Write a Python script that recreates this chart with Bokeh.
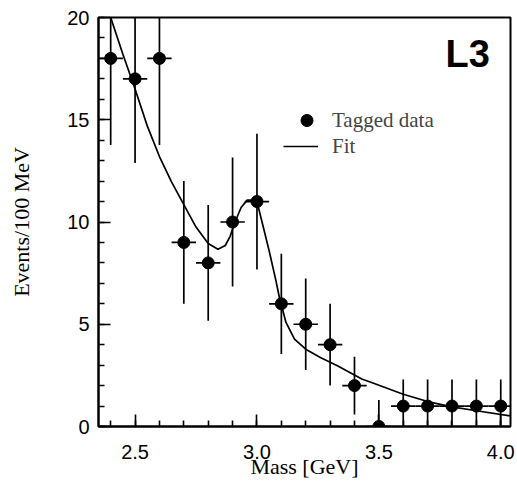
import numpy as np
from bokeh.plotting import figure
from bokeh.models import Range1d, FixedTicker, Legend, LegendItem, Label
from bokeh.embed import file_html
from bokeh.resources import INLINE

# ---- data ----
mass = [2.4, 2.5, 2.6, 2.7, 2.8, 2.9, 3.0, 3.1, 3.2, 3.3, 3.4, 3.5, 3.6, 3.7, 3.8, 3.9, 4.0]
events = [18, 17, 18, 9, 8, 10, 11, 6, 5, 4, 2, 0, 1, 1, 1, 1, 1]
err_up = [4.24, 4.12, 4.24, 3.0, 2.83, 3.16, 3.32, 2.45, 2.24, 2.0, 1.41, 1.3, 1.3, 1.3, 1.3, 1.3, 1.3]
err_dn = [4.24, 4.12, 4.24, 3.0, 2.83, 3.16, 3.32, 2.45, 2.24, 2.0, 1.41, 0.0, 1.0, 1.0, 1.0, 1.0, 1.0]
bin_width = 0.1

fit_mass = [2.40, 2.45, 2.50, 2.55, 2.60, 2.65, 2.70, 2.75, 2.80, 2.84, 2.87, 2.89, 2.91,
            2.935, 2.96, 2.99, 3.006, 3.03, 3.05, 3.078, 3.092, 3.119, 3.154, 3.20,
            3.26, 3.33, 3.43, 3.47, 3.60, 3.70, 3.80, 3.90, 4.04]
fit_events = [20.0, 18.2, 16.5, 14.7, 13.2, 11.95, 10.85, 9.75, 8.95, 8.67, 8.85, 9.3, 10.0,
              10.71, 11.07, 11.07, 10.71, 9.56, 8.59, 7.12, 6.31, 5.09, 4.27, 3.78,
              3.37, 2.97, 2.32, 2.15, 1.58, 1.22, 0.96, 0.77, 0.52]

x_ticks = [2.5, 3.0, 3.5, 4.0]
x_tick_labels = ["2.5", "3.0", "3.5", "4.0"]
y_ticks = [0, 5, 10, 15, 20]
y_tick_labels = ["0", "5", "10", "15", "20"]
x_minor = [round(v, 1) for v in np.arange(2.4, 4.05, 0.1)]
y_minor = list(range(0, 21))

p = figure(width=517, height=484, output_backend="svg", toolbar_location=None,
           x_range=Range1d(2.35, 4.04), y_range=Range1d(0, 20),
           min_border_left=98, min_border_right=7, min_border_top=17, min_border_bottom=58)
p.grid.visible = False
p.background_fill_color = "white"
p.border_fill_color = "white"
p.outline_line_color = "black"
p.outline_line_width = 2

lo = [e - d for e, d in zip(events, err_dn)]
hi = [e + u for e, u in zip(events, err_up)]
p.segment(x0=mass, y0=lo, x1=mass, y1=hi, line_color="black", line_width=1.7)
p.segment(x0=[m - bin_width / 2 for m in mass], y0=events,
          x1=[m + bin_width / 2 for m in mass], y1=events, line_color="black", line_width=1.7)
fit_r = p.line(fit_mass, fit_events, line_color="black", line_width=1.7)
pts = p.scatter(mass, events, size=12, fill_color="black", line_color="black")

for ax, ticks, labels, minor in ((p.xaxis[0], x_ticks, x_tick_labels, x_minor),
                                  (p.yaxis[0], y_ticks, y_tick_labels, y_minor)):
    ax.ticker = FixedTicker(ticks=ticks, minor_ticks=minor)
    ax.major_label_overrides = {t: l for t, l in zip(ticks, labels)}
    ax.major_tick_in = 12
    ax.major_tick_out = 0
    ax.minor_tick_in = 6
    ax.minor_tick_out = 0
    ax.major_tick_line_width = 1.6
    ax.minor_tick_line_width = 1.6
    ax.axis_line_width = 2
    ax.major_label_text_font = "Liberation Sans"
    ax.major_label_text_font_size = "20px"
    ax.major_label_text_color = "black"
    ax.axis_label_text_font = "Liberation Serif"
    ax.axis_label_text_font_size = "22px"
    ax.axis_label_text_font_style = "normal"
    ax.axis_label_text_color = "black"

p.xaxis.axis_label = "Mass [GeV]"
p.yaxis.axis_label = "Events/100 MeV"
p.xaxis.major_label_standoff = 18
p.xaxis.axis_label_standoff = -8
p.yaxis.major_label_standoff = 9
p.yaxis.axis_label_standoff = 30

common = dict(border_line_alpha=0, background_fill_alpha=0, padding=0, margin=0,
              glyph_width=35, glyph_height=30, label_text_font="Liberation Serif",
              label_text_font_size="21px", label_height=20)
p.add_layout(Legend(items=[LegendItem(label="Tagged data", renderers=[pts])],
                    location=(191, 291), label_standoff=8, **common))
p.add_layout(Legend(items=[LegendItem(label="Fit", renderers=[fit_r])],
                    location=(185, 265), label_standoff=14, **common))

p.add_layout(Label(x=347, y=373, x_units="screen", y_units="screen", text="L3",
                   text_font="Liberation Sans", text_font_style="bold",
                   text_baseline="alphabetic",
                   text_font_size="38px", text_color="black"))

open("out.html", "w").write(file_html(p, INLINE))
